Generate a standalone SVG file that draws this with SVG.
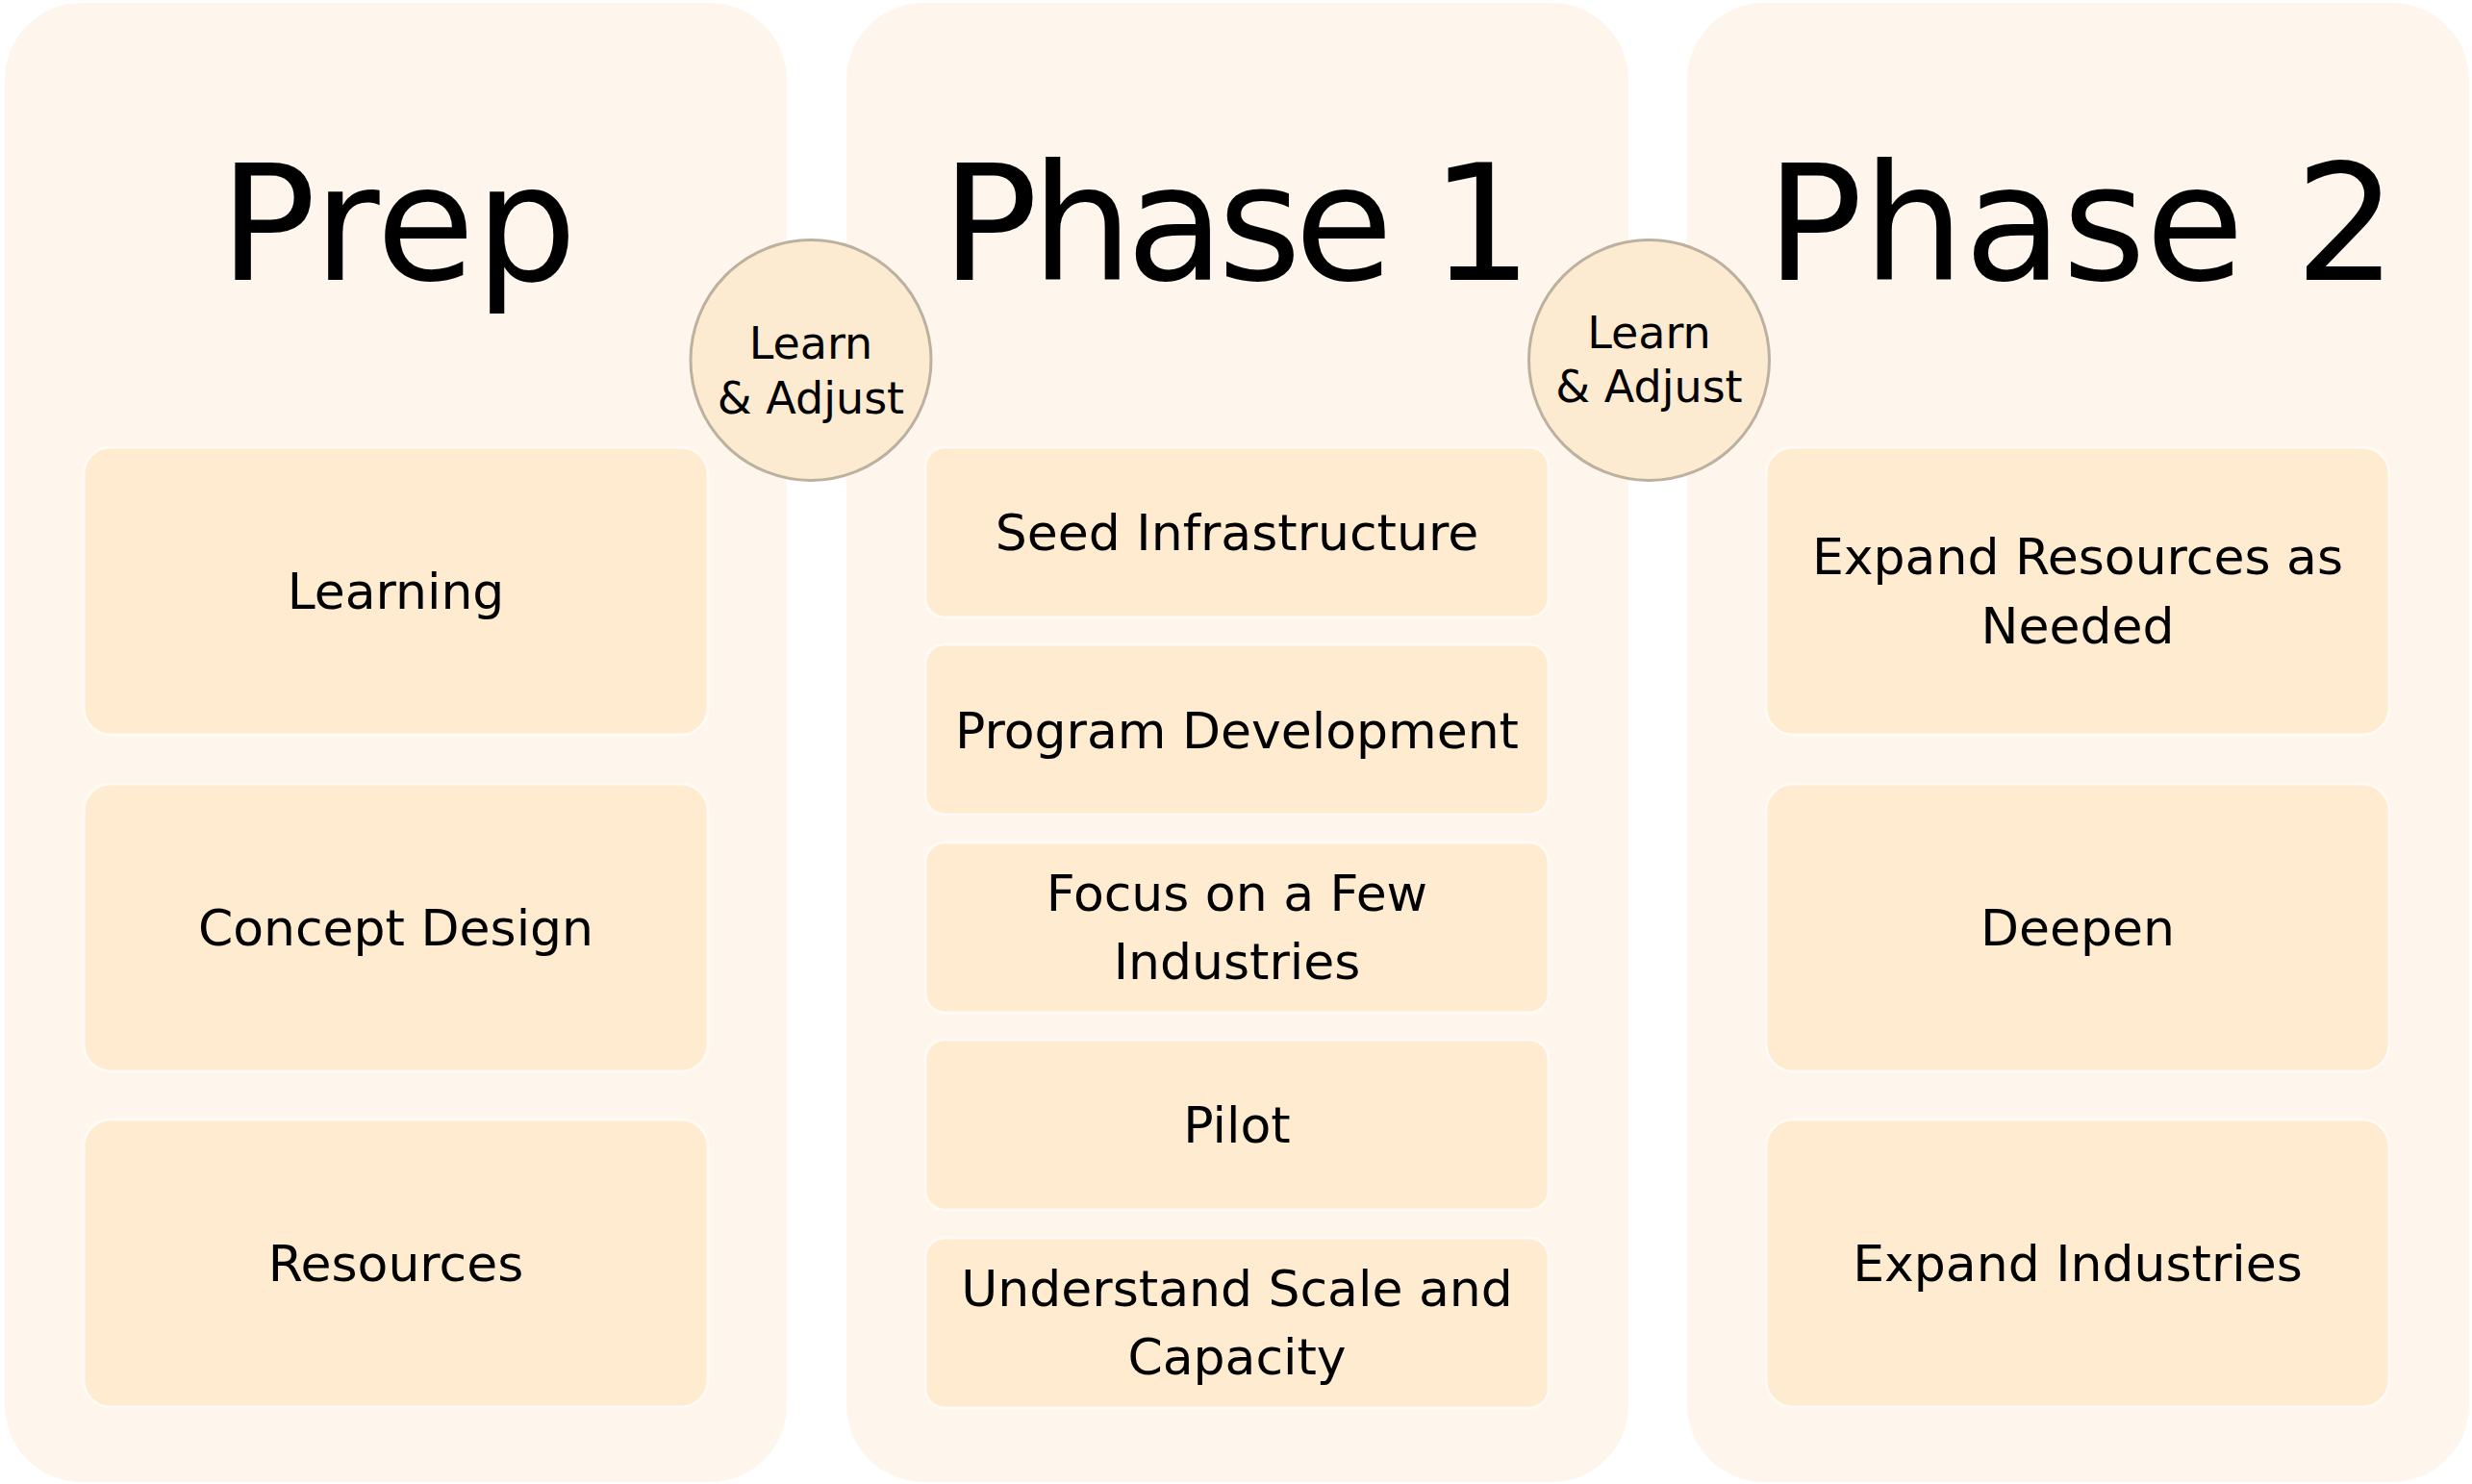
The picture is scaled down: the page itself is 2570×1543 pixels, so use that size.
<svg xmlns="http://www.w3.org/2000/svg" width="2570" height="1543" viewBox="0 0 2570 1543">
<style>
.panel{fill:#fef5ec;}
.box{fill:#feebd0;stroke:#fffaf3;stroke-width:3;}
.step{fill:#fdebd1;stroke:#bcb19f;stroke-width:3;}
text{font-family:"DejaVu Sans","Liberation Sans",sans-serif;fill:#000;text-anchor:middle;}
.title{font-size:167px;}
.lbl{font-size:52px;}
.sm{font-size:46px;}
</style>
<rect width="2570" height="1543" fill="#ffffff"/>
<g id="prep">
<rect class="panel" x="5" y="3" width="813" height="1538" rx="80"/>
<text class="title" x="414" y="291" textLength="372">Prep</text>
</g>
<g id="phase1">
<rect class="panel" x="880" y="3" width="813" height="1538" rx="80"/>
<text class="title" x="1286" y="291" textLength="615">Phase 1</text>
</g>
<g id="phase2">
<rect class="panel" x="1754" y="3" width="813" height="1538" rx="80"/>
<text class="title" x="2164" y="291" textLength="656">Phase 2</text>
</g>
<g id="prep-learning"><rect class="box" x="87" y="465" width="649" height="299" rx="28"/><text class="lbl" x="411.5" y="633">Learning</text></g>
<g id="prep-concept"><rect class="box" x="87" y="815" width="649" height="299" rx="28"/><text class="lbl" x="411.5" y="983">Concept Design</text></g>
<g id="prep-resources"><rect class="box" x="87" y="1164" width="649" height="299" rx="28"/><text class="lbl" x="411.5" y="1332">Resources</text></g>
<g id="p1-seed"><rect class="box" x="962" y="465" width="648" height="177" rx="20"/><text class="lbl" x="1286" y="572">Seed Infrastructure</text></g>
<g id="p1-program"><rect class="box" x="962" y="670" width="648" height="177" rx="20"/><text class="lbl" x="1286" y="778">Program Development</text></g>
<g id="p1-focus"><rect class="box" x="962" y="876" width="648" height="177" rx="20"/><text class="lbl" x="1286" y="947">Focus on a Few</text><text class="lbl" x="1286" y="1018">Industries</text></g>
<g id="p1-pilot"><rect class="box" x="962" y="1081" width="648" height="177" rx="20"/><text class="lbl" x="1286" y="1188">Pilot</text></g>
<g id="p1-understand"><rect class="box" x="962" y="1287" width="648" height="177" rx="20"/><text class="lbl" x="1286" y="1358">Understand Scale and</text><text class="lbl" x="1286" y="1429">Capacity</text></g>
<g id="p2-expand-res"><rect class="box" x="1836" y="465" width="648" height="299" rx="28"/><text class="lbl" x="2160" y="597">Expand Resources as</text><text class="lbl" x="2160" y="669">Needed</text></g>
<g id="p2-deepen"><rect class="box" x="1836" y="815" width="648" height="299" rx="28"/><text class="lbl" x="2160" y="983">Deepen</text></g>
<g id="p2-expand-ind"><rect class="box" x="1836" y="1164" width="648" height="299" rx="28"/><text class="lbl" x="2160" y="1332">Expand Industries</text></g>
<g id="connectors">
<g id="learn-adjust-1"><circle class="step" cx="843" cy="374.5" r="125"/><text class="sm" x="843" y="373">Learn</text><text class="sm" x="843" y="430">&amp; Adjust</text></g>
<g id="learn-adjust-2"><circle class="step" cx="1714.5" cy="374.5" r="125"/><text class="sm" x="1714.5" y="362">Learn</text><text class="sm" x="1714.5" y="418">&amp; Adjust</text></g>
</g>
</svg>
